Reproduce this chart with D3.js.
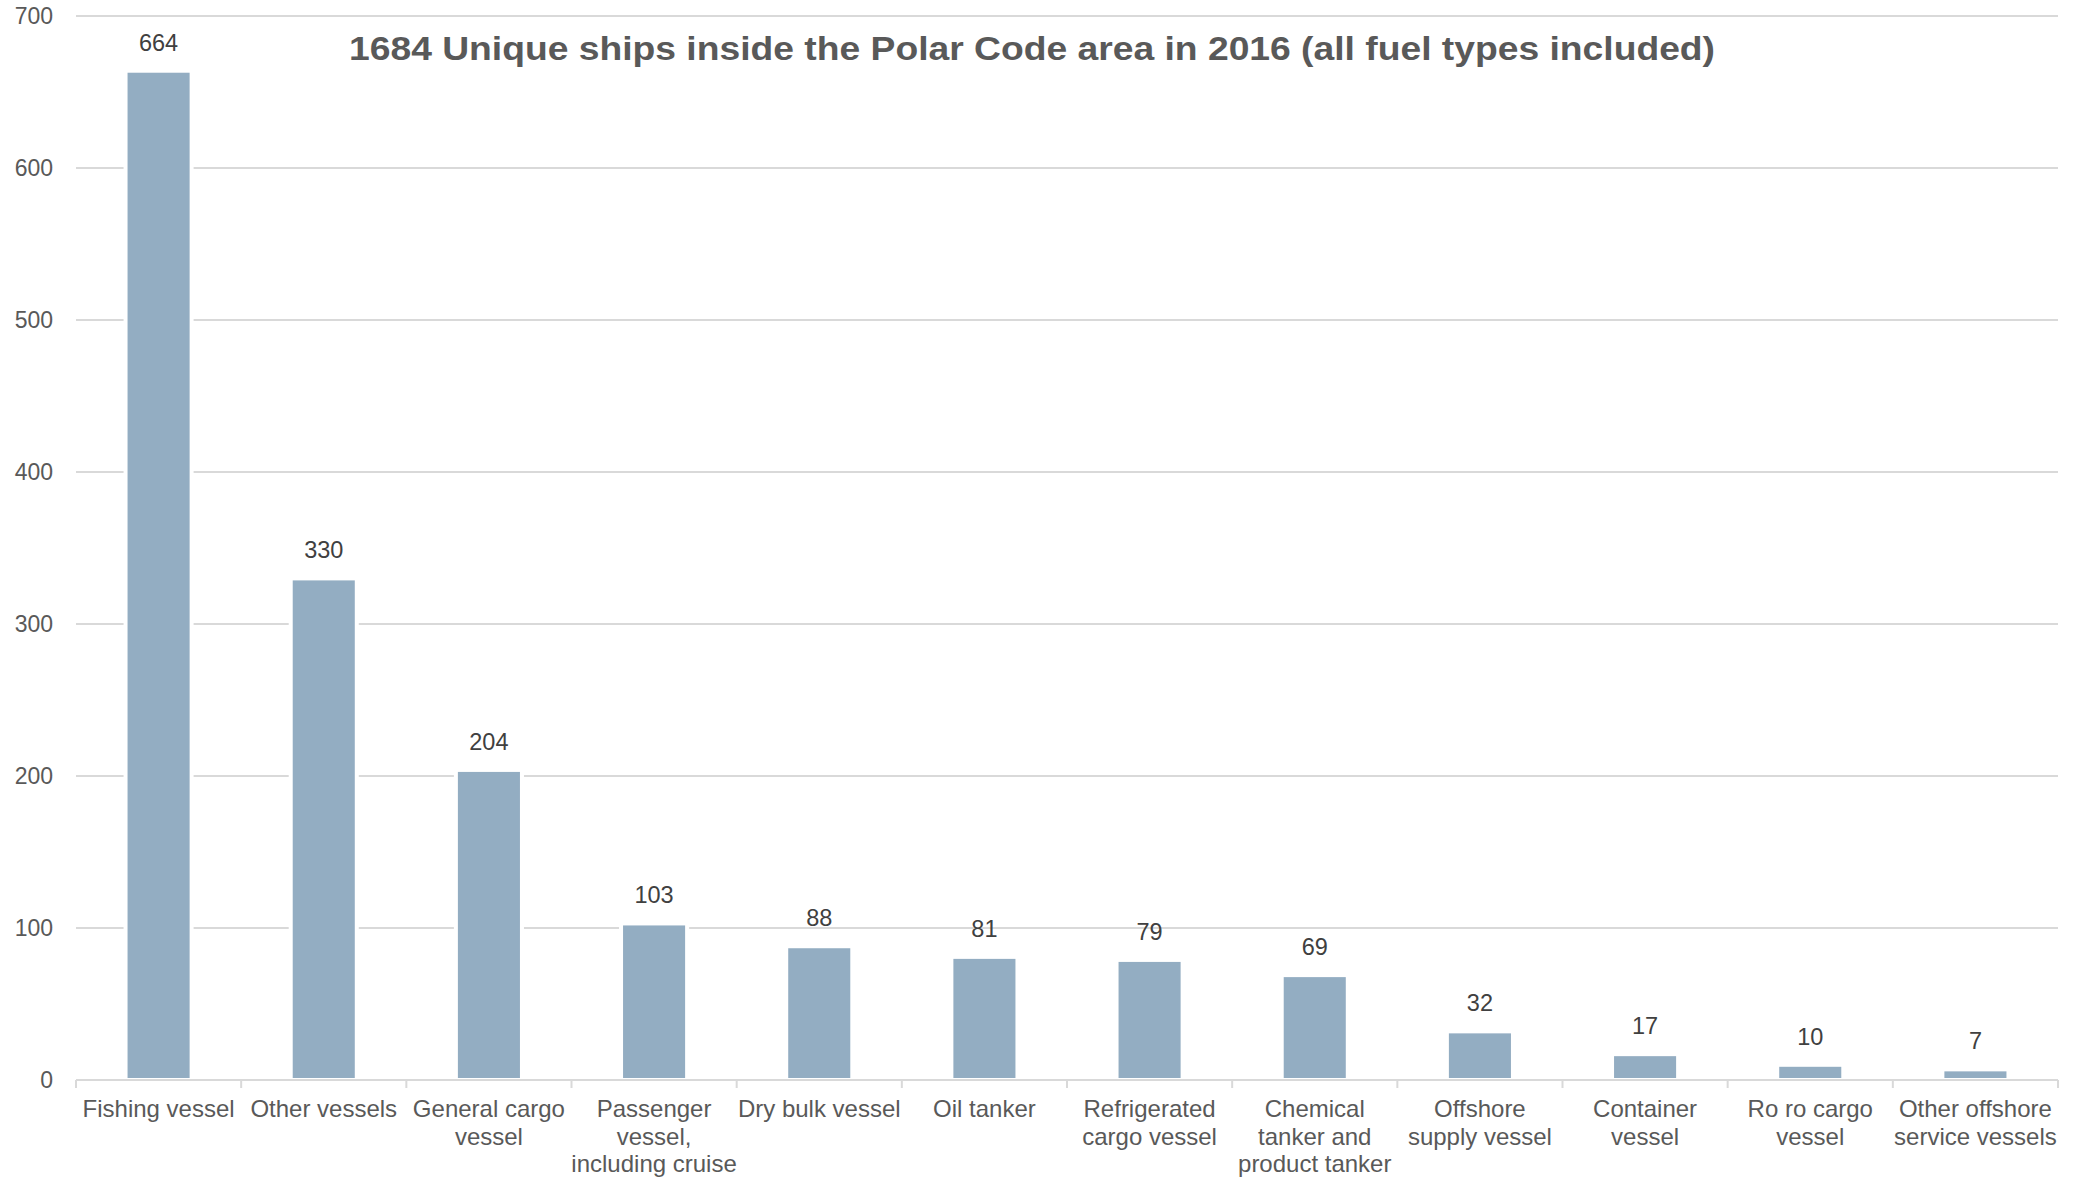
<!DOCTYPE html>
<html>
<head>
<meta charset="utf-8">
<script src="https://cdn.jsdelivr.net/npm/d3@7"></script>
<style>
  html, body { margin: 0; padding: 0; background: #ffffff; }
  svg { display: block; font-family: "Liberation Sans", Arial, sans-serif; }
</style>
</head>
<body>
<svg id="chart" width="2074" height="1182"></svg>
<script>
// Ship types counted inside the Polar Code area, 2016 ("\n" marks a line break in the axis label)
const categories = [
  "Fishing vessel",
  "Other vessels",
  "General cargo\nvessel",
  "Passenger\nvessel,\nincluding cruise",
  "Dry bulk vessel",
  "Oil tanker",
  "Refrigerated\ncargo vessel",
  "Chemical\ntanker and\nproduct tanker",
  "Offshore\nsupply vessel",
  "Container\nvessel",
  "Ro ro cargo\nvessel",
  "Other offshore\nservice vessels"
];
const shipCounts = [664, 330, 204, 103, 88, 81, 79, 69, 32, 17, 10, 7];
const yTicks = [0, 100, 200, 300, 400, 500, 600, 700];
const chartTitle = "1684 Unique ships inside the Polar Code area in 2016 (all fuel types included)";

const svg = d3.select("#chart");
const margin = { left: 76, right: 2058, top: 16, bottom: 1080 };

const x = d3.scaleBand()
  .domain(categories)
  .range([margin.left, margin.right])
  .paddingInner(0.6)
  .paddingOuter(0.3);

const y = d3.scaleLinear()
  .domain([0, 700])
  .range([margin.bottom, margin.top]);

// Horizontal gridlines
svg.append("g")
  .selectAll("line")
  .data(yTicks.filter(d => d > 0))
  .join("line")
  .attr("x1", margin.left)
  .attr("x2", margin.right)
  .attr("y1", d => y(d))
  .attr("y2", d => y(d))
  .attr("stroke", "#d9d9d9")
  .attr("stroke-width", 2);

// Y axis labels
const yAxis = svg.append("g")
  .attr("transform", `translate(${margin.left},0)`)
  .call(d3.axisLeft(y).tickValues(yTicks).tickSize(0).tickPadding(23));
yAxis.select(".domain").remove();
yAxis.selectAll("text")
  .attr("fill", "#595959")
  .attr("font-size", "23px")
  .attr("font-family", "'Liberation Sans', Arial, sans-serif");

// Bars
svg.append("g")
  .selectAll("rect")
  .data(shipCounts)
  .join("rect")
  .attr("x", (d, i) => x(categories[i]))
  .attr("y", d => y(d))
  .attr("width", x.bandwidth())
  .attr("height", d => y(0) - y(d))
  .attr("fill", "#93adc2")
  .attr("stroke", "#ffffff")
  .attr("stroke-width", 4);

// Value labels
svg.append("g")
  .selectAll("text")
  .data(shipCounts)
  .join("text")
  .attr("x", (d, i) => x(categories[i]) + x.bandwidth() / 2)
  .attr("y", d => y(d) - 20)
  .attr("text-anchor", "middle")
  .attr("font-size", "23.5px")
  .attr("fill", "#404040")
  .text(d => d);

// X axis line with ticks between categories
const step = x.step();
const boundaries = d3.range(categories.length + 1).map(i => margin.left + i * step);
svg.append("line")
  .attr("x1", margin.left)
  .attr("x2", margin.right)
  .attr("y1", y(0))
  .attr("y2", y(0))
  .attr("stroke", "#d9d9d9")
  .attr("stroke-width", 2);
svg.append("g")
  .selectAll("line")
  .data(boundaries)
  .join("line")
  .attr("x1", d => d)
  .attr("x2", d => d)
  .attr("y1", y(0))
  .attr("y2", y(0) + 8)
  .attr("stroke", "#d9d9d9")
  .attr("stroke-width", 2);

// Category labels, wrapped on "\n"
const catLabels = svg.append("g")
  .selectAll("text")
  .data(categories)
  .join("text")
  .attr("x", d => x(d) + x.bandwidth() / 2)
  .attr("y", y(0) + 37)
  .attr("text-anchor", "middle")
  .attr("font-size", "24px")
  .attr("fill", "#595959");
catLabels.selectAll("tspan")
  .data(d => d.split("\n"))
  .join("tspan")
  .attr("x", function () { return d3.select(this.parentNode).attr("x"); })
  .attr("dy", (d, i) => i === 0 ? 0 : 27.5)
  .text(d => d);

// Title
svg.append("text")
  .attr("x", 1032)
  .attr("y", 60)
  .attr("text-anchor", "middle")
  .attr("font-size", "34px")
  .attr("font-weight", "bold")
  .attr("fill", "#595959")
  .attr("textLength", 1366)
  .attr("lengthAdjust", "spacingAndGlyphs")
  .text(chartTitle);
</script>
</body>
</html>
